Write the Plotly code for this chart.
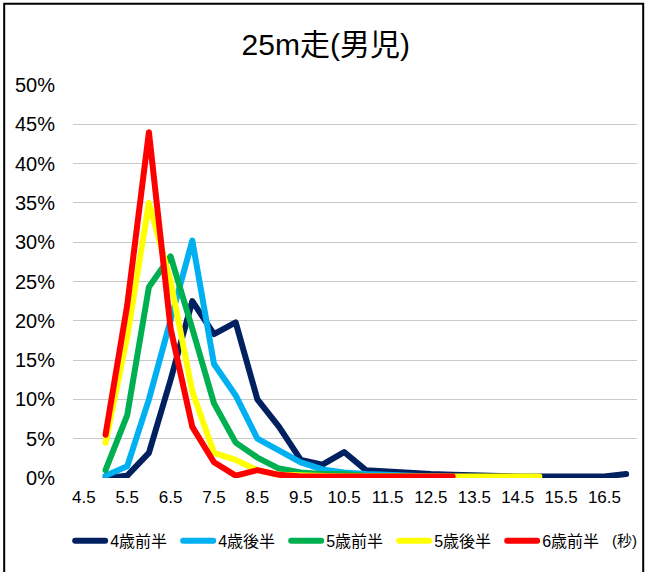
import plotly.graph_objects as go

# x categories (seconds) for data points
times = [5.0, 5.5, 6.0, 6.5, 7.0, 7.5, 8.0, 8.5, 9.0, 9.5, 10.0, 10.5, 11.0,
         11.5, 12.0, 12.5, 13.0, 13.5, 14.0, 14.5, 15.0, 15.5, 16.0, 16.5, 17.0]
tick_vals = [4.5, 5.5, 6.5, 7.5, 8.5, 9.5, 10.5, 11.5, 12.5, 13.5, 14.5, 15.5, 16.5]
tick_text = ["4.5", "5.5", "6.5", "7.5", "8.5", "9.5", "10.5", "11.5", "12.5",
             "13.5", "14.5", "15.5", "16.5"]

names = ["4歳前半", "4歳後半", "5歳前半", "5歳後半", "6歳前半"]
colors = ["#002060", "#00B0F0", "#00B050", "#FFFF00", "#FF0000"]

# percentages
s4_first = [0.0, 0.3, 3.2, 12.5, 22.5, 18.3, 19.8, 10.0, 6.5, 2.3, 1.7, 3.3, 1.0,
            0.8, 0.6, 0.5, 0.4, 0.3, 0.3, 0.2, 0.2, 0.2, 0.2, 0.2, 0.5]
s4_second = [0.3, 1.5, 10.0, 20.0, 30.2, 14.5, 10.5, 5.0, 3.6, 2.0, 1.1, 0.7, 0.5,
             0.4, 0.3, 0.2, 0.1]
s5_first = [1.0, 8.0, 24.3, 28.2, 19.0, 9.5, 4.5, 2.6, 1.2, 0.7, 0.5, 0.5, 0.3,
            0.3, 0.2, 0.2, 0.1]
s5_second = [4.5, 18.0, 35.0, 25.0, 11.0, 3.2, 2.3, 1.0, 0.4, 0.3, 0.3, 0.2, 0.2,
             0.2, 0.2, 0.2, 0.2, 0.2, 0.2, 0.2, 0.2]
s6_first = [5.5, 22.0, 44.0, 19.0, 6.5, 2.0, 0.3, 1.0, 0.4, 0.2, 0.2, 0.2, 0.2,
            0.2, 0.2, 0.2, 0.2]

series = [s4_first, s4_second, s5_first, s5_second, s6_first]

FONT = "Liberation Sans, Noto Sans CJK JP, sans-serif"

fig = go.Figure()
for name, color, vals in zip(names, colors, series):
    fig.add_trace(go.Scatter(
        x=times[:len(vals)], y=[v / 100 for v in vals], name=name, mode="lines",
        line=dict(color=color, width=6),
    ))

fig.update_layout(
    width=645, height=572,
    margin=dict(l=73, r=8, t=85, b=94, autoexpand=False),
    paper_bgcolor="white", plot_bgcolor="white",
    font=dict(family=FONT, color="#000000"),
    title=dict(text="25m走(男児)", x=0.505, xanchor="center", y=0.922, yanchor="middle",
               yref="container", font=dict(size=30, family=FONT)),
    xaxis=dict(range=[4.25, 17.25], tickvals=tick_vals, ticktext=tick_text,
               showgrid=False, zeroline=False, showline=False, ticks="",
               tickfont=dict(size=17), ticklabelstandoff=7, automargin=False),
    yaxis=dict(range=[0, 0.5], dtick=0.05, tickformat=".0%", showgrid=True,
               gridcolor="#C8C8C8", gridwidth=1, zeroline=False, showline=False,
               ticks="", tickfont=dict(size=20), ticklabelstandoff=17, automargin=False),
    legend=dict(orientation="h", x=-0.005, xanchor="left", y=-0.16, yanchor="middle",
                font=dict(size=16), entrywidth=63, entrywidthmode="pixels",
                itemwidth=30, bgcolor="rgba(0,0,0,0)"),
    showlegend=True,
)

fig.add_annotation(text="(秒)", xref="paper", yref="paper", x=0.978, y=-0.16,
                   xanchor="center", yanchor="middle", showarrow=False,
                   font=dict(size=15, family=FONT))

# outer chart frame
fig.add_shape(type="rect", xref="paper", yref="paper",
              x0=-0.122, x1=1.011, y0=-0.26, y1=1.207,
              line=dict(color="#000000", width=2), fillcolor="rgba(0,0,0,0)", layer="below")

post = (
    "document.body.style.margin='0';document.body.style.padding='0';"
    "document.querySelectorAll('.scatterlayer path.js-line, .legend path').forEach("
    "function(p){p.style.strokeLinejoin='round';p.style.strokeLinecap='round';});"
)
fig.write_html("out.html", post_script=post, config={"displayModeBar": False})
